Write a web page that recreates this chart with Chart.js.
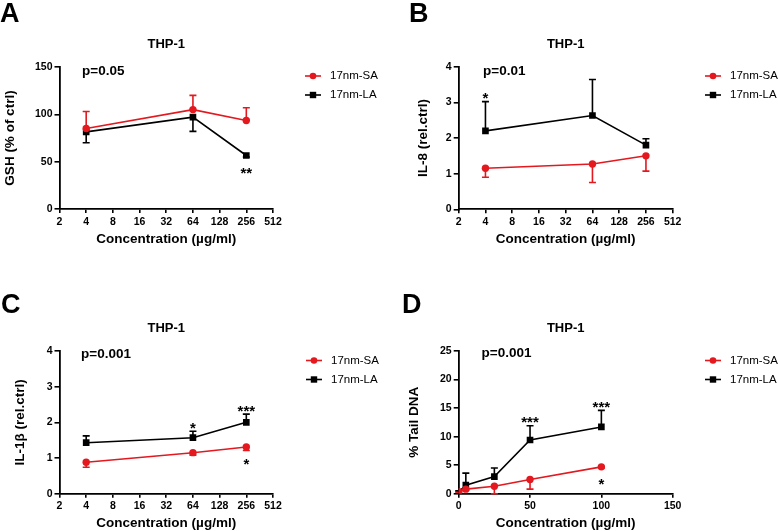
<!DOCTYPE html>
<html><head><meta charset="utf-8">
<script src="https://cdn.jsdelivr.net/npm/chart.js@4/dist/chart.umd.min.js"></script>
<style>
html,body{margin:0;padding:0;background:#fff;}
body{width:778px;height:531px;position:relative;overflow:hidden;}
.p{position:absolute;}
canvas{display:block;}
</style></head><body>
<div class="p" style="left:0;top:0"><canvas id="cA"></canvas></div>
<div class="p" style="left:389px;top:0"><canvas id="cB"></canvas></div>
<div class="p" style="left:0;top:265px"><canvas id="cC"></canvas></div>
<div class="p" style="left:389px;top:265px"><canvas id="cD"></canvas></div>
<script>
// ---------- DATA ----------
const seriesNames = ['17nm-SA', '17nm-LA'];
const concLog = [4, 64, 256];
const logTicks = [2, 4, 8, 16, 32, 64, 128, 256, 512];
const concDNA = [0, 5, 25, 50, 100];
const linTicks = [0, 50, 100, 150];

const gshSA = [85, 105, 93.5];
const gshSAerr = [18, 15, 13.5];
const gshLA = [81.5, 97, 56.5];
const gshLAerr = [11.5, 15, 1.5];
const gshSAsig = ['', '', ''];
const gshLAsig = ['', '', '**'];

const il8SA = [1.15, 1.27, 1.5];
const il8SAerr = [0.25, 0.52, 0.43];
const il8LA = [2.2, 2.63, 1.8];
const il8LAerr = [0.82, 1.01, 0.18];
const il8SAsig = ['', '', ''];
const il8LAsig = ['*', '', ''];

const il1bSA = [0.88, 1.15, 1.31];
const il1bSAerr = [0.14, 0.07, 0.1];
const il1bLA = [1.43, 1.57, 2.0];
const il1bLAerr = [0.19, 0.18, 0.23];
const il1bSAsig = ['', '', '*'];
const il1bLAsig = ['', '*', '***'];

const dnaSA = [0.35, 0.8, 1.3, 2.5, 4.7];
const dnaSAerr = [0.1, 0.2, 1.3, 1.7, 0.2];
const dnaLA = [0.3, 1.5, 3.0, 9.4, 11.7];
const dnaLAerr = [0.2, 2.1, 1.5, 2.5, 2.9];
const dnaSAsig = ['', '', '', '', '*'];
const dnaLAsig = ['', '', '', '***', '***'];

const yTicksA = [0, 50, 100, 150];
const yTicksBC = [0, 1, 2, 3, 4];
const yTicksD = [0, 5, 10, 15, 20, 25];

// ---------- STYLE ----------
const FONT = "'Liberation Sans', Arial, Helvetica, sans-serif";
const RED = '#e3191f';
const BLACK = '#000000';
const X_TITLE = 'Concentration (µg/ml)';

const errorBars = {
  id: 'errorBars',
  beforeDatasetsDraw(chart) {
    const ctx = chart.ctx, ys = chart.scales.y;
    chart.data.datasets.forEach((ds, di) => {
      const meta = chart.getDatasetMeta(di);
      ctx.save();
      ctx.strokeStyle = ds.borderColor;
      ctx.lineWidth = 1.6;
      meta.data.forEach((pt, i) => {
        const e = ds.errs[i];
        if (!e) return;
        const y2 = ys.getPixelForValue(ds.data[i].y + ds.errDir * e);
        ctx.beginPath();
        ctx.moveTo(pt.x, pt.y); ctx.lineTo(pt.x, y2);
        ctx.moveTo(pt.x - 3.5, y2); ctx.lineTo(pt.x + 3.5, y2);
        ctx.stroke();
      });
      ctx.restore();
    });
  },
  afterDatasetsDraw(chart) {
    const ctx = chart.ctx, ys = chart.scales.y;
    chart.data.datasets.forEach((ds, di) => {
      const meta = chart.getDatasetMeta(di);
      meta.data.forEach((pt, i) => {
        const s = ds.sig[i];
        if (!s) return;
        const e = ds.errs[i] || 0;
        const ePx = Math.abs(ys.getPixelForValue(ds.data[i].y + ds.errDir * e) - pt.y);
        const off = Math.max(ePx, 4) + (ds.errDir > 0 ? 7 : 9.5);
        const cy = pt.y - ds.errDir * off;
        ctx.save();
        ctx.fillStyle = BLACK;
        ctx.font = 'bold 15px ' + FONT;
        ctx.textAlign = 'center';
        ctx.textBaseline = 'alphabetic';
        ctx.fillText(s, pt.x, cy + 0.575 * 15);
        ctx.restore();
      });
    });
  }
};

function makeDeco(p) {
  return {
    id: 'deco',
    afterDraw(chart) {
      const ctx = chart.ctx;
      ctx.save();
      ctx.fillStyle = BLACK;
      // panel letter
      ctx.font = 'bold 27px ' + FONT;
      ctx.textAlign = 'left'; ctx.textBaseline = 'alphabetic';
      ctx.fillText(p.letter, p.letterX, p.letterY);
      // title
      ctx.font = 'bold 13px ' + FONT;
      ctx.textAlign = 'center'; ctx.textBaseline = 'middle';
      ctx.fillText('THP-1', (chart.chartArea.left + chart.chartArea.right) / 2, p.titleY);
      // p-value
      ctx.font = 'bold 13.5px ' + FONT;
      ctx.textAlign = 'left';
      ctx.fillText(p.pText, p.pX, p.pY);
      // legend
      const cols = [RED, BLACK];
      seriesNames.forEach((name, k) => {
        const y = p.legY + k * 19;
        ctx.strokeStyle = cols[k]; ctx.fillStyle = cols[k]; ctx.lineWidth = 1.6;
        ctx.beginPath(); ctx.moveTo(p.legX, y); ctx.lineTo(p.legX + 16, y); ctx.stroke();
        const cx = p.legX + 8;
        if (k === 0) { ctx.beginPath(); ctx.arc(cx, y, 3.3, 0, Math.PI * 2); ctx.fill(); }
        else { ctx.fillRect(cx - 3.2, y - 3.2, 6.4, 6.4); }
        ctx.fillStyle = BLACK;
        ctx.font = '11.5px ' + FONT;
        ctx.textAlign = 'left'; ctx.textBaseline = 'middle';
        ctx.fillText(name, p.legX + 25, y);
      });
      ctx.restore();
    }
  };
}

function makeChart(p) {
  const cv = document.getElementById(p.id);
  cv.width = p.w; cv.height = p.h;
  cv.style.width = p.w + 'px'; cv.style.height = p.h + 'px';
  const xH = 38;
  const mk = (xs, ys) => xs.map((x, i) => ({ x: x, y: ys[i] }));
  const xScale = p.log ? {
    type: 'logarithmic', min: 2, max: 512,
    afterBuildTicks: s => { s.ticks = logTicks.map(v => ({ value: v })); }
  } : {
    type: 'linear', min: 0, max: 150,
    afterBuildTicks: s => { s.ticks = linTicks.map(v => ({ value: v })); }
  };
  Object.assign(xScale, {
    position: 'bottom',
    afterFit: s => { s.height = xH; },
    grid: { display: true, drawOnChartArea: false, drawTicks: true, tickLength: 4, color: BLACK, lineWidth: 1.6 },
    border: { display: true, color: BLACK, width: 1.8 },
    ticks: { autoSkip: false, maxRotation: 0, color: BLACK, padding: 2.5, font: { family: FONT, size: 10.5, weight: 'bold' },
      callback: v => String(v) },
    title: { display: true, text: X_TITLE, color: BLACK, padding: { top: 0, bottom: 0 }, font: { family: FONT, size: 13.5, weight: 'bold' } }
  });
  new Chart(cv, {
    type: 'line',
    data: {
      datasets: [
        { label: seriesNames[0], data: mk(p.xs, p.sa), errs: p.saErr, errDir: p.saDir, sig: p.saSig,
          borderColor: RED, backgroundColor: RED, pointBackgroundColor: RED, pointBorderColor: RED,
          pointStyle: 'circle', pointRadius: 3.7, pointBorderWidth: 0, borderWidth: 1.6, tension: 0 },
        { label: seriesNames[1], data: mk(p.xs, p.la), errs: p.laErr, errDir: p.laDir, sig: p.laSig,
          borderColor: BLACK, backgroundColor: BLACK, pointBackgroundColor: BLACK, pointBorderColor: BLACK,
          pointStyle: 'rect', pointRadius: 4.7, pointBorderWidth: 0, borderWidth: 1.6, tension: 0 }
      ]
    },
    options: {
      responsive: false, animation: false,
      layout: { padding: { left: p.padL, top: p.area.t, right: p.w - p.area.r, bottom: p.h - p.area.b - xH } },
      plugins: { legend: { display: false }, tooltip: { enabled: false }, title: { display: false } },
      scales: {
        x: xScale,
        y: {
          type: 'linear', min: 0, max: p.yTicks[p.yTicks.length - 1],
          afterBuildTicks: s => { s.ticks = p.yTicks.map(v => ({ value: v })); },
          afterFit: s => { s.width = p.area.l - p.padL; },
          grid: { display: true, drawOnChartArea: false, drawTicks: true, tickLength: 5, color: BLACK, lineWidth: 1.6 },
          border: { display: true, color: BLACK, width: 1.8 },
          ticks: { color: BLACK, padding: 2, font: { family: FONT, size: 10.5, weight: 'bold' } },
          title: { display: true, text: p.yTitle, color: BLACK, padding: { top: 2, bottom: 0 }, font: { family: FONT, size: 13.5, weight: 'bold' } }
        }
      }
    },
    plugins: [errorBars, makeDeco(p)]
  });
}

makeChart({ id: 'cA', w: 389, h: 265, log: true, area: { l: 59.5, t: 67, r: 273, b: 209 }, padL: 0,
  xs: concLog, sa: gshSA, saErr: gshSAerr, saDir: 1, saSig: gshSAsig, la: gshLA, laErr: gshLAerr, laDir: -1, laSig: gshLAsig,
  yTicks: yTicksA, yTitle: 'GSH (% of ctrl)', letter: 'A', letterX: 0, letterY: 22, titleY: 44.5,
  pText: 'p=0.05', pX: 82, pY: 71, legX: 305, legY: 76 });
makeChart({ id: 'cB', w: 389, h: 265, log: true, area: { l: 69.7, t: 66.7, r: 283.7, b: 209.3 }, padL: 24,
  xs: concLog, sa: il8SA, saErr: il8SAerr, saDir: -1, saSig: il8SAsig, la: il8LA, laErr: il8LAerr, laDir: 1, laSig: il8LAsig,
  yTicks: yTicksBC, yTitle: 'IL-8 (rel.ctrl)', letter: 'B', letterX: 20, letterY: 22, titleY: 44.5,
  pText: 'p=0.01', pX: 94, pY: 71, legX: 316, legY: 76 });
makeChart({ id: 'cC', w: 389, h: 266, log: true, area: { l: 59.5, t: 86, r: 273, b: 228.7 }, padL: 10,
  xs: concLog, sa: il1bSA, saErr: il1bSAerr, saDir: -1, saSig: il1bSAsig, la: il1bLA, laErr: il1bLAerr, laDir: 1, laSig: il1bLAsig,
  yTicks: yTicksBC, yTitle: 'IL-1β (rel.ctrl)', letter: 'C', letterX: 1, letterY: 48, titleY: 63.5,
  pText: 'p=0.001', pX: 81, pY: 89.5, legX: 306, legY: 95.5 });
makeChart({ id: 'cD', w: 389, h: 266, log: false, area: { l: 69.7, t: 86, r: 283.7, b: 228.7 }, padL: 15.5,
  xs: concDNA, sa: dnaSA, saErr: dnaSAerr, saDir: -1, saSig: dnaSAsig, la: dnaLA, laErr: dnaLAerr, laDir: 1, laSig: dnaLAsig,
  yTicks: yTicksD, yTitle: '% Tail DNA', letter: 'D', letterX: 13, letterY: 48, titleY: 63.5,
  pText: 'p=0.001', pX: 92.5, pY: 88.5, legX: 316, legY: 95.5 });
</script>
</body></html>
